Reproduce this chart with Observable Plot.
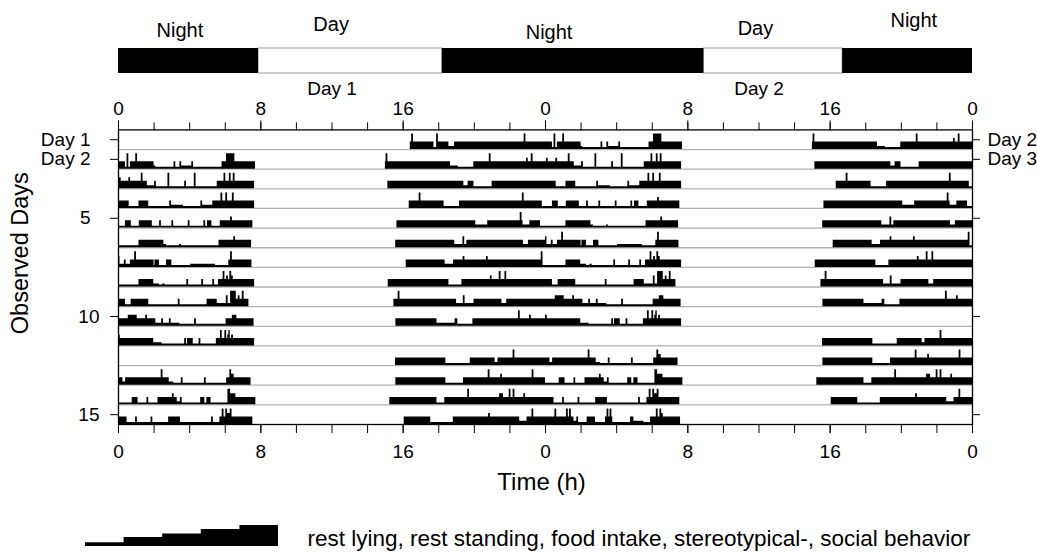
<!DOCTYPE html>
<html>
<head>
<meta charset="utf-8">
<script src="https://cdn.jsdelivr.net/npm/d3@7"></script>
<script src="https://cdn.jsdelivr.net/npm/@observablehq/plot@0.6"></script>
<style>
  body { margin: 0; background: #fff; }
  #chart svg { display: block; }
</style>
</head>
<body>
<div id="chart"></div>
<script>
// Behaviour categories, lowest to highest bar level (1..5)
const behaviours = ["rest lying", "rest standing", "food intake", "stereotypical-", "social behavior"];

// Light regime over the double-plotted 48 h (hours)
const phaseNames = ["Night", "Day", "Night", "Day", "Night"];
const phaseBounds = [0, 7.87, 18.2, 32.9, 40.7, 48];
const phaseLabelAt = [3.45, 11.95, 24.2, 35.8, 44.7];

// Axis ticks and labels
const hourTicks = d3.range(0, 49, 2);
const hourLabelTicks = [0, 8, 16, 24, 32, 40, 48];
const topDayLabels = ["Day 1", "Day 2"];
const topDayLabelAt = [12, 36];
const rowTicks = [1, 2, 5, 10, 15];
const rowTickLabels = ["Day 1", "Day 2", "5", "10", "15"];
const rightTickLabels = ["Day 2", "Day 3"];

// Recorded behaviour per day: [hour, level] change points, level 0 = end of recording bout
const day01 = [[16.4,3],[16.48,5],[16.58,3],[17.73,1],[17.88,5],[17.98,3],[18.57,2],[18.89,3],[22.8,5],[22.9,3],[24,0]];
const day02 = [[0,3],[0.39,1],[0.48,5],[0.58,1],[0.67,3],[0.97,5],[1.07,3],[2.0,2],[2.1,1],[3.12,3],[3.22,1],[3.45,3],[3.55,2],[4.12,3],[4.22,1],[5.82,3],[6.07,5],[6.54,3],[7.7,0],
  [15.0,3],[15.04,5],[15.14,3],[18.66,2],[19.1,1],[19.97,3],[20.84,5],[20.94,3],[22.93,4],[23.03,3],[23.2,5],[23.3,3],[24,0]];
const day03 = [[0,3],[0.05,4],[0.15,3],[0.58,4],[0.68,3],[1.28,5],[1.38,3],[1.62,2],[2.03,3],[2.13,1],[2.78,5],[2.88,1],[3.72,3],[3.82,1],[4.26,5],[4.36,1],[5.55,3],[5.93,5],[6.03,3],[6.23,5],[6.33,3],[6.45,5],[6.55,3],[7.65,0],
  [15.14,3],[19.41,2],[19.65,3],[19.98,1],[21.0,3],[24,0]];
const day04 = [[0,3],[0.6,1],[1.15,3],[1.7,1],[2.88,3],[2.98,2],[3.65,1],[4.63,3],[4.73,2],[5.3,3],[5.76,5],[5.86,3],[6.03,5],[6.13,3],[6.4,5],[6.5,3],[7.65,0],
  [16.34,3],[16.9,5],[17.0,3],[18.3,1],[19.17,3],[22.7,5],[22.8,3],[23.82,1],[24,0]];
const day05 = [[0,1],[0.39,3],[0.72,1],[1.17,3],[1.9,1],[2.31,3],[2.41,1],[3.0,3],[3.1,1],[3.92,3],[4.02,1],[4.8,3],[4.9,1],[5.0,3],[5.25,1],[5.72,3],[6.3,4],[6.4,3],[7.55,0],
  [15.65,3],[20.08,2],[20.75,3],[22.58,5],[22.68,3],[22.74,2],[23.12,3],[23.72,1],[24,0]];
const day06 = [[0,1],[1.15,3],[2.55,2],[2.7,1],[3.43,2],[3.53,1],[5.65,3],[6.48,4],[6.58,3],[7.48,0],
  [15.58,3],[18.9,2],[19.36,4],[19.46,2],[19.58,3],[22.76,2],[23.04,3],[24,0]];
const day07 = [[0,4],[0.08,2],[0.33,3],[0.43,2],[0.67,3],[0.91,5],[1.01,3],[2.0,1],[2.05,3],[2.3,1],[2.7,3],[3.0,1],[4.05,2],[5.45,1],[6.2,3],[6.3,5],[6.4,3],[7.5,0],
  [16.17,3],[18.36,2],[18.83,3],[19.37,4],[19.47,3],[20.68,4],[20.78,3],[23.76,5],[23.86,1],[24,0]];
const day08 = [[0,1],[1.15,3],[1.98,2],[2.3,1],[2.5,2],[2.62,1],[3.84,3],[3.94,1],[4.68,3],[4.78,1],[5.3,3],[5.4,1],[5.62,3],[5.88,5],[5.98,3],[6.08,4],[6.18,3],[6.26,5],[6.36,4],[6.45,3],[7.65,0],
  [15.16,3],[18.57,1],[19.3,3],[20.9,4],[21.0,3],[21.4,5],[21.5,3],[21.72,5],[21.82,3],[24,0]];
const day09 = [[0,3],[0.39,1],[0.71,3],[1.7,1],[3.36,3],[3.46,1],[4.98,3],[5.55,2],[6.06,4],[6.16,2],[6.3,5],[6.62,3],[6.73,4],[6.83,3],[6.96,5],[7.06,3],[7.33,0],
  [15.48,3],[15.72,5],[15.82,3],[19.0,2],[19.38,4],[19.48,2],[19.98,3],[21.55,2],[21.82,3],[24,0]];
const day10 = [[0,3],[0.55,4],[1.05,3],[1.53,4],[1.63,3],[2.1,2],[2.43,3],[2.53,2],[2.86,3],[2.96,2],[3.45,1],[4.28,3],[4.38,1],[6.05,3],[6.4,4],[6.65,3],[7.62,0],
  [15.59,3],[17.9,2],[18.92,3],[19.07,1],[19.92,3],[22.48,5],[22.58,3],[23.1,4],[23.2,3],[24,0]];
const day11 = [[0,4],[0.1,3],[1.98,2],[2.45,1],[3.72,3],[3.82,1],[3.88,3],[4.2,1],[4.53,3],[4.63,1],[5.5,3],[5.73,5],[5.83,3],[5.98,5],[6.08,3],[6.14,4],[6.2,5],[6.28,3],[6.36,4],[6.46,3],[7.65,0]];
const day12 = [[15.57,3],[18.4,1],[19.77,3],[21.17,2],[21.33,3],[22.18,5],[22.28,3],[24,0]];
const day13 = [[0,3],[0.25,2],[0.4,3],[2.4,5],[2.5,3],[2.85,2],[3.1,1],[3.53,3],[3.63,1],[4.83,3],[4.93,1],[6.08,3],[6.26,5],[6.36,4],[6.5,3],[7.45,0],
  [15.59,3],[18.4,1],[19.39,3],[20.78,5],[20.88,3],[21.48,4],[21.58,3],[23.25,5],[23.35,3],[24,0]];
const day14 = [[0,1],[0.77,3],[1.1,1],[1.6,3],[1.7,1],[2.22,3],[3.03,4],[3.13,3],[3.3,2],[3.48,3],[3.58,1],[4.62,3],[4.85,1],[4.97,3],[5.2,1],[6.15,5],[6.3,4],[6.6,3],[7.72,0],
  [15.25,3],[17.9,1],[18.34,3],[19.63,5],[19.73,3],[21.42,4],[21.64,3],[21.96,5],[22.06,3],[22.18,5],[22.28,3],[22.78,4],[22.88,3],[24,0]];
const day15 = [[0,3],[0.48,1],[0.96,3],[1.06,1],[1.83,3],[1.93,1],[2.82,3],[3.48,1],[5.23,3],[5.33,1],[5.7,3],[5.83,5],[5.93,3],[6.03,5],[6.13,4],[6.28,5],[6.38,3],[7.55,0],
  [16.06,3],[17.55,1],[18.82,3],[20.8,4],[20.9,3],[22.55,2],[22.96,3],[23.24,5],[23.34,3],[24,0]];
const day16 = [[0,3],[0.53,5],[0.63,3],[1.18,5],[1.28,3],[1.35,5],[1.45,3],[1.6,2],[1.76,3],[1.86,1],[2.34,3],[2.81,1],[3.37,3],[3.46,5],[3.56,3],[3.63,5],[3.73,3],[3.78,1],[4.78,3],[4.97,2],[5.53,1],[5.9,3],[6.23,5],[6.33,3],[6.43,5],[6.53,4],[6.62,3],[7.59,0]];

const days = [day01, day02, day03, day04, day05, day06, day07, day08, day09, day10, day11, day12, day13, day14, day15, day16];

const FONT = "'Liberation Sans', Arial, Helvetica, sans-serif";
const W = 1037;
const ML = 118, MR = 65;
const nRows = 15;

// bar height per behaviour level, as a fraction of one row
const rowFrac = [0, 0.1, 0.16, 0.38, 0.56, 0.79];
// staircase step heights in the key, as a fraction of its full height
const keyFrac = [0, 0.18, 0.43, 0.6, 0.81, 1];

// split change points into continuous bouts
function bouts(changes) {
  const out = [];
  let cur = null;
  for (const [t, lvl] of changes) {
    if (lvl === 0) {
      if (cur) { cur.push([t, cur[cur.length - 1][1]]); out.push(cur); cur = null; }
    } else {
      if (!cur) cur = [];
      cur.push([t, lvl]);
    }
  }
  return out;
}

// double plot: row r shows day r (0-24 h) and day r+1 (24-48 h)
const bars = [];
for (let r = 1; r <= nRows; r++) {
  [[days[r - 1], 0], [days[r], 24]].forEach(([d, off], k) => {
    if (!d) return;
    bouts(d).forEach((b, s) => {
      const key = r + "-" + k + "-" + s;
      for (const [t, lvl] of b) bars.push({key, x: t + off, base: r + 0.5, top: r + 0.5 - rowFrac[lvl]});
    });
  });
}

const phases = phaseNames.map((name, i) => ({name, start: phaseBounds[i], end: phaseBounds[i + 1], at: phaseLabelAt[i]}));
const labelY = [30, 24, 32, 28, 20];   // vertical centre of each phase label

const chart = document.getElementById("chart");

// light regime strip
const strip = Plot.plot({
  width: W, height: 78,
  marginTop: 48, marginBottom: 5, marginLeft: ML, marginRight: MR,
  x: {domain: [0, 48], axis: null},
  style: {fontFamily: FONT, fontSize: "20px", color: "black", background: "white"},
  marks: [
    Plot.rect(phases.filter(p => p.name === "Day"), {x1: "start", x2: "end", fill: "white", stroke: "#9a9a9a", strokeWidth: 1}),
    Plot.rect(phases.filter(p => p.name === "Night"), {x1: "start", x2: "end", fill: "black"}),
    ...phases.map((p, i) => Plot.text([p], {x: "at", text: "name", frameAnchor: "top", lineAnchor: "middle", dy: labelY[i] - 48, fill: "black"}))
  ]
});

// actogram
const main = Plot.plot({
  width: W, height: 422,
  marginTop: 51.4, marginBottom: 76, marginLeft: ML, marginRight: MR,
  x: {domain: [0, 48]},
  y: {domain: [0.5, nRows + 0.5], reverse: true},
  style: {fontFamily: FONT, fontSize: "19px", color: "black", background: "white"},
  marks: [
    Plot.ruleY(d3.range(1.5, nRows, 1), {stroke: "#b0b0b0", strokeWidth: 1.3}),
    Plot.areaY(bars, {x: "x", y1: "base", y2: "top", z: "key", curve: "step-after", fill: "black"}),
    Plot.frame({stroke: "black", strokeWidth: 1.3}),
    Plot.axisX({anchor: "top", ticks: hourTicks, tickSize: 8, tickFormat: () => "", label: null}),
    Plot.axisX({anchor: "top", ticks: hourLabelTicks, tickSize: 10, tickPadding: 5, tickFormat: d => String(d % 24), label: null}),
    Plot.axisX({anchor: "bottom", ticks: hourTicks, tickSize: 9, tickFormat: () => "", label: null}),
    Plot.axisX({anchor: "bottom", ticks: hourLabelTicks, tickSize: 9, tickPadding: 11, tickFormat: d => String(d % 24), label: null}),
    Plot.axisY({anchor: "left", ticks: rowTicks.slice(0, 3), tickSize: 8, tickPadding: 20,
      tickFormat: d => rowTickLabels[rowTicks.indexOf(d)], label: null}),
    Plot.axisY({anchor: "left", ticks: rowTicks.slice(3), tickSize: 8, tickPadding: 11,
      tickFormat: d => rowTickLabels[rowTicks.indexOf(d)], label: null}),
    Plot.axisY({anchor: "right", ticks: rowTicks, tickSize: 7, tickPadding: 8,
      tickFormat: d => rightTickLabels[rowTicks.indexOf(d)] ?? "", label: null}),
    Plot.text(topDayLabels, {x: (d, i) => topDayLabelAt[i], frameAnchor: "top", lineAnchor: "middle", dy: -41, fill: "black"}),
    Plot.text(["Observed Days"], {frameAnchor: "left", textAnchor: "middle", lineAnchor: "middle",
      dx: -98, dy: -24, rotate: -90, fontSize: 23.5, fill: "black"}),
    Plot.text(["Time (h)"], {frameAnchor: "bottom", lineAnchor: "middle", dx: -4, dy: 58, fontSize: 24, fill: "black"})
  ]
});

// behaviour key
const keySteps = behaviours.map((b, i) => ({x: i, y: keyFrac[i + 1]}));
keySteps.push({x: behaviours.length, y: keyFrac[behaviours.length]});
const key = Plot.plot({
  width: W, height: 52,
  marginTop: 25, marginBottom: 6, marginLeft: 85, marginRight: W - 278,
  x: {domain: [0, behaviours.length], axis: null},
  y: {domain: [0, 1], axis: null},
  style: {fontFamily: FONT, fontSize: "22.5px", color: "black", background: "white"},
  marks: [
    Plot.areaY(keySteps, {x: "x", y: "y", curve: "step-after", fill: "black"}),
    Plot.text([behaviours.join(", ")], {frameAnchor: "right", lineAnchor: "middle", dx: 29, dy: 2.5, textAnchor: "start", fill: "black"})
  ]
});

chart.append(strip, main, key);
</script>
</body>
</html>
